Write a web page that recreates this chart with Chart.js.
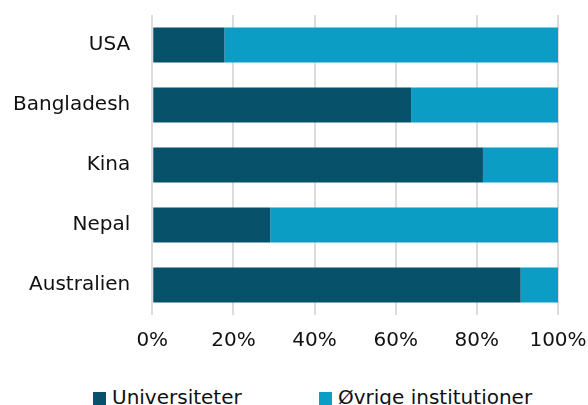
<!DOCTYPE html>
<html>
<head>
<meta charset="utf-8">
<script src="https://cdn.jsdelivr.net/npm/chart.js@4"></script>
<style>
  html, body { margin: 0; padding: 0; background: #fff; overflow: hidden; }
  #wrap { position: relative; width: 588px; height: 370px; }
  #legende { position: absolute; left: 0; top: 385px; width: 588px; height: 24px;
    font: 20px "DejaVu Sans", sans-serif; color: #111; }
  #legende .item { position: absolute; top: 0; height: 24px; line-height: 24px; white-space: nowrap; }
  #legende .box { display: inline-block; width: 13px; height: 13px; margin-right: 6px; vertical-align: -1px; }
</style>
</head>
<body>
<div id="wrap"><canvas id="chart"></canvas></div>
<div id="legende"></div>
<script>
// les données du graphique
const lande = ['USA', 'Bangladesh', 'Kina', 'Nepal', 'Australien'];
const universiteter = [17.8, 63.8, 81.5, 29.1, 90.8];
const oevrige = [82.2, 36.2, 18.5, 70.9, 9.2];
const xTicks = [0, 20, 40, 60, 80, 100];

const couleurs = ['#08516b', '#0b9dc4'];
const legendeX = [93, 319]; // position de chaque entrée de la légende
Chart.defaults.font.family = '"DejaVu Sans", sans-serif';
Chart.defaults.font.size = 20;
Chart.defaults.color = '#111';

// légende HTML construite à partir des datasets
const htmlLegende = {
  id: 'htmlLegende',
  afterUpdate(chart) {
    const el = document.getElementById('legende');
    el.innerHTML = '';
    chart.data.datasets.forEach((ds, i) => {
      const item = document.createElement('div');
      item.className = 'item';
      item.style.left = legendeX[i] + 'px';
      const box = document.createElement('span');
      box.className = 'box';
      box.style.background = ds.backgroundColor;
      item.appendChild(box);
      item.appendChild(document.createTextNode(ds.label));
      el.appendChild(item);
    });
  },
};

const ctx = document.getElementById('chart');
new Chart(ctx, {
  type: 'bar',
  data: {
    labels: lande,
    datasets: [
      { label: 'Universiteter', data: universiteter, backgroundColor: couleurs[0], barPercentage: 0.65, categoryPercentage: 0.9 },
      { label: 'Øvrige institutioner', data: oevrige, backgroundColor: couleurs[1], barPercentage: 0.65, categoryPercentage: 0.9 },
    ],
  },
  options: {
    indexAxis: 'y',
    responsive: true,
    maintainAspectRatio: false,
    animation: false,
    layout: { padding: { top: 15, right: 30, left: 13, bottom: 17 } },
    scales: {
      x: {
        stacked: true,
        min: 0,
        max: 100,
        afterBuildTicks: (axis) => { axis.ticks = xTicks.map((v) => ({ value: v })); },
        // chart.js compte le padding deux fois, on en retire un
        afterFit: (axis) => {
          axis.paddingLeft = 0;
          axis.paddingRight = 0;
          axis.height -= axis.options.ticks.padding;
        },
        ticks: { callback: (v) => v + '%', padding: 14, maxRotation: 0 },
        grid: { color: '#dcdcdc', lineWidth: 2, drawTicks: false },
        border: { display: false },
      },
      y: {
        stacked: true,
        afterFit: (axis) => {
          axis.paddingTop = 0;
          axis.paddingBottom = 0;
          axis.width -= axis.options.ticks.padding;
        },
        ticks: { padding: 22 },
        grid: { display: false, drawTicks: false },
        border: { display: false },
      },
    },
    plugins: {
      legend: { display: false },
      tooltip: { enabled: false },
    },
  },
  plugins: [htmlLegende],
});
</script>
</body>
</html>
